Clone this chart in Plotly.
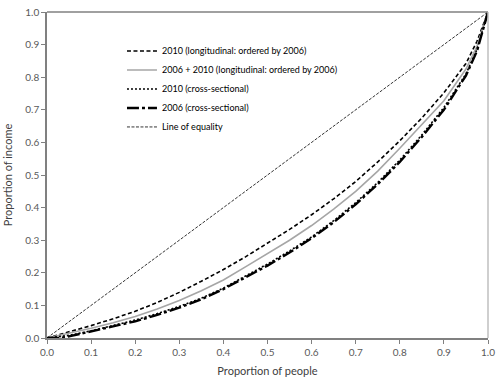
import plotly.graph_objects as go

# Proportion of people (x grid)
people = [0, 0.05, 0.1, 0.15, 0.2, 0.25, 0.3, 0.35, 0.4, 0.45, 0.5, 0.55, 0.6,
          0.65, 0.7, 0.75, 0.8, 0.85, 0.9, 0.95, 0.975, 1.0]

# 2010 (longitudinal: ordered by 2006)
long_2010 = [0, 0.018, 0.038, 0.059, 0.082, 0.109, 0.14, 0.174, 0.21, 0.249, 0.29, 0.333,
             0.378, 0.427, 0.48, 0.54, 0.605, 0.675, 0.752, 0.842, 0.91, 1.0]
# 2006 + 2010 (longitudinal: ordered by 2006)
long_2006_2010 = [0, 0.014, 0.03, 0.047, 0.066, 0.089, 0.115, 0.145, 0.178, 0.218, 0.258, 0.3,
                  0.345, 0.395, 0.45, 0.512, 0.582, 0.655, 0.728, 0.825, 0.895, 1.0]
# 2010 (cross-sectional)
cross_2010 = [0, 0.008, 0.022, 0.038, 0.055, 0.075, 0.097, 0.122, 0.153, 0.19, 0.227, 0.267,
              0.31, 0.36, 0.415, 0.477, 0.546, 0.623, 0.707, 0.81, 0.885, 1.0]
# 2006 (cross-sectional)
people_2006 = [0, 0.03, 0.05, 0.1, 0.15, 0.2, 0.25, 0.3, 0.35, 0.4, 0.45, 0.5, 0.55, 0.6,
               0.65, 0.7, 0.75, 0.8, 0.85, 0.9, 0.95, 0.975, 1.0]
cross_2006 = [0, 0.0, 0.005, 0.02, 0.035, 0.051, 0.071, 0.093, 0.119, 0.15, 0.186, 0.222,
              0.262, 0.306, 0.355, 0.41, 0.472, 0.54, 0.617, 0.70, 0.805, 0.88, 1.0]
# Line of equality
equality_x = [0, 1]
equality_y = [0, 1]

x_ticks = [0, 0.1, 0.2, 0.3, 0.4, 0.5, 0.6, 0.7, 0.8, 0.9, 1.0]
y_ticks = [0, 0.1, 0.2, 0.3, 0.4, 0.5, 0.6, 0.7, 0.8, 0.9, 1.0]

FONT = "Lato"
fig = go.Figure()
fig.add_trace(go.Scatter(x=people, y=long_2010, mode="lines",
                         name="2010 (longitudinal: ordered by 2006)",
                         line=dict(color="black", width=1.6, dash="4px,2.5px")))
fig.add_trace(go.Scatter(x=people, y=long_2006_2010, mode="lines",
                         name="2006 + 2010 (longitudinal: ordered by 2006)",
                         line=dict(color="#a6a6a6", width=1.6)))
fig.add_trace(go.Scatter(x=people, y=cross_2010, mode="lines",
                         name="2010 (cross-sectional)",
                         line=dict(color="black", width=1.6, dash="2px,2px")))
fig.add_trace(go.Scatter(x=people_2006, y=cross_2006, mode="lines",
                         name="2006 (cross-sectional)",
                         line=dict(color="black", width=2.4, dash="12px,3px,3px,3px")))
fig.add_trace(go.Scatter(x=equality_x, y=equality_y, mode="lines",
                         name="Line of equality",
                         line=dict(color="black", width=0.8, dash="3px,1.5px")))

axis_common = dict(range=[0, 1], showgrid=False, zeroline=False, showline=True,
                   linecolor="#808080", linewidth=1.5, ticks="outside", ticklen=4,
                   tickcolor="#808080", tickformat=".1f", ticklabeloverflow="allow",
                   tickfont=dict(family=FONT, size=10, color="#595959"))
fig.update_xaxes(**axis_common, tickvals=x_ticks,
                 title=dict(text="Proportion of people", standoff=11,
                            font=dict(family=FONT, size=11, color="#404040")))
fig.update_yaxes(**axis_common, tickvals=y_ticks,
                 title=dict(text="Proportion of income", standoff=10,
                            font=dict(family=FONT, size=11, color="#404040")))

fig.add_shape(type="line", xref="paper", yref="paper", x0=0, x1=1, y0=1, y1=1,
              line=dict(color="#808080", width=1.5))
fig.add_shape(type="line", xref="paper", yref="paper", x0=1, x1=1, y0=0, y1=1,
              line=dict(color="#bfbfbf", width=1.5))

fig.update_layout(
    width=500, height=381,
    margin=dict(l=47, r=8, t=5, b=40),
    paper_bgcolor="white", plot_bgcolor="white",
    showlegend=True,
    legend=dict(x=0.17, y=0.925, xanchor="left", yanchor="top",
                bgcolor="rgba(0,0,0,0)", tracegroupgap=0, itemwidth=30,
                font=dict(family=FONT, size=9, color="black")),
)

fig.write_html("out.html", config={"displayModeBar": False},
               post_script="document.body.style.margin='0';document.body.style.overflow='hidden';")
